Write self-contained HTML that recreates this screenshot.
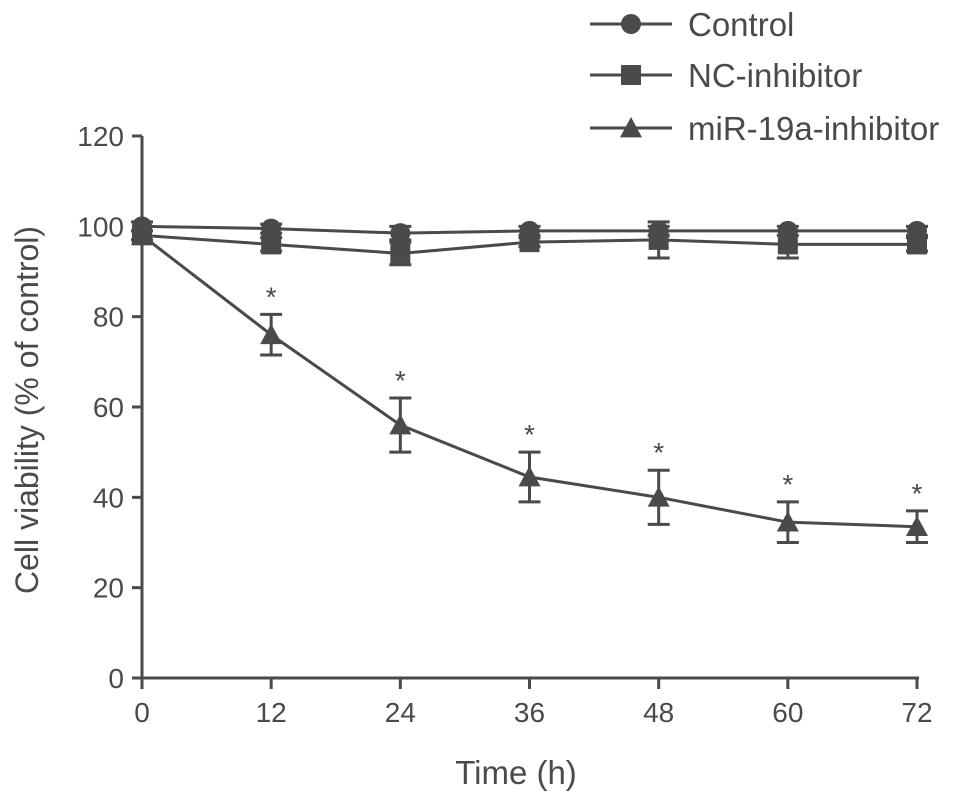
<!DOCTYPE html>
<html><head><meta charset="utf-8"><style>
html,body{margin:0;padding:0;background:#fff;}
svg{display:block;font-family:"Liberation Sans",Arial,sans-serif;}
</style></head><body>
<svg id="chart" width="969" height="805" viewBox="0 0 969 805"></svg>
<script>
const timepoints=[0,12,24,36,48,60,72];
const yTicks=[0,20,40,60,80,100,120];
const controlVals=[100,99.5,98.5,99,99,99,99];
const controlErr=[1,1,1.5,1,1,1,1];
const ncVals=[98,96,94,96.5,97,96,96];
const ncErr=[1,1.5,2.5,1,4,3,1.5];
const mirVals=[98,76,56,44.5,40,34.5,33.5];
const mirErr=[1,4.5,6,5.5,6,4.5,3.5];
const sig=[false,true,true,true,true,true,true];
const C="#4a4a4a";
const svg=document.getElementById('chart');
const NS="http://www.w3.org/2000/svg";
const x=t=>142+(t/72)*775;
const y=v=>678-(v/120)*542;
function mk(tag,attrs,parent){const e=document.createElementNS(NS,tag);for(const k in attrs)e.setAttribute(k,attrs[k]);(parent||svg).appendChild(e);return e;}
let ax=mk('line',{x1:142,y1:136,x2:142,y2:678,stroke:C,'stroke-width':3});


ax=mk('line',{x1:142,y1:678,x2:919,y2:678,stroke:C,'stroke-width':3});


yTicks.forEach(v=>{
  const l=mk('line',{x1:132,y1:y(v),x2:142,y2:y(v),stroke:C,'stroke-width':3});
  
  
  const t=mk('text',{x:124,y:y(v)+10,'text-anchor':'end','font-size':28,fill:C});
  t.textContent=v;
  
  
});
timepoints.forEach(v=>{
  const l=mk('line',{x1:x(v),y1:678,x2:x(v),y2:689,stroke:C,'stroke-width':3});
  
  
  const t=mk('text',{x:x(v),y:722,'text-anchor':'middle','font-size':28,fill:C});
  t.textContent=v;
  
  
});
let tt=mk('text',{x:516,y:784,'text-anchor':'middle','font-size':33,fill:C});
tt.textContent='Time (h)';


tt=mk('text',{x:0,y:0,'text-anchor':'middle','font-size':32,fill:C,transform:'translate(38,410) rotate(-90)'});
tt.textContent='Cell viability (% of control)';


function marker(type,cx,cy,g,s){
  if(type==='circle')return mk('circle',{cx,cy,r:s||10,fill:C},g);
  if(type==='square'){const h=s||10;return mk('rect',{x:cx-h,y:cy-h,width:2*h,height:2*h,fill:C},g);}
  const h=s||11;return mk('polygon',{points:`${cx},${cy-h} ${cx+h},${cy+h*0.85} ${cx-h},${cy+h*0.85}`,fill:C},g);
}
function series(name,vals,err,type){
  const g=mk('g',{});
  
  
  const p=mk('polyline',{points:vals.map((v,i)=>x(timepoints[i])+','+y(v)).join(' '),fill:'none',stroke:C,'stroke-width':3},g);
  
  
  vals.forEach((v,i)=>{
    const cx=x(timepoints[i]);
    const eb=mk('path',{d:`M${cx},${y(v+err[i])}V${y(v-err[i])}M${cx-11},${y(v+err[i])}H${cx+11}M${cx-11},${y(v-err[i])}H${cx+11}`,stroke:C,'stroke-width':3,fill:'none'},g);
    
    
    const m=marker(type,cx,y(v),g);
    
    
  });
}
series('control',controlVals,controlErr,'circle');
series('nc-inhibitor',ncVals,ncErr,'square');
series('mir-19a-inhibitor',mirVals,mirErr,'triangle');
mirVals.forEach((v,i)=>{
  if(!sig[i])return;
  const s=mk('text',{x:x(timepoints[i]),y:y(v+mirErr[i])-8,'text-anchor':'middle','font-size':28,fill:C});
  s.textContent='*';
  
  
});
const legend=[['Control','circle',24],['NC-inhibitor','square',75],['miR-19a-inhibitor','triangle',128]];
legend.forEach(([lab,type,ly])=>{
  const g=mk('g',{});
  
  
  mk('line',{x1:590,y1:ly,x2:672,y2:ly,stroke:C,'stroke-width':3},g);
  marker(type,631,ly,g);
  const t=mk('text',{x:688,y:ly+12,'font-size':33,fill:C},g);
  t.textContent=lab;
});
</script>
</body></html>
